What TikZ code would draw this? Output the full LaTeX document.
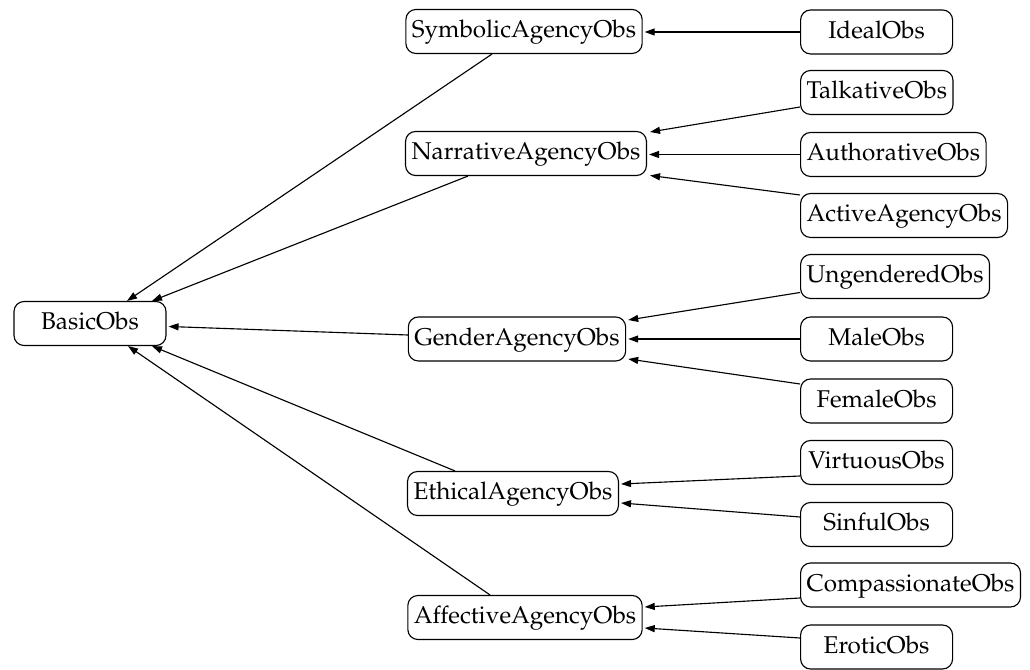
\documentclass[tikz,border=0pt]{standalone}
\usepackage[T1]{fontenc}
\usepackage{mathpazo}
\usetikzlibrary{arrows.meta}

\begin{document}
\begin{tikzpicture}[x=0.4pt, y=-0.4pt,
  obs/.style={draw, line width=0.45pt, rounded corners=4pt, font=\fontsize{9.7}{12}\selectfont,
    minimum width=60.8pt, minimum height=17.6pt, inner xsep=2.4pt,
    text height=0.72em, text depth=0.22em},
  isa/.style={draw, line width=0.45pt, -{Triangle[length=4pt, width=2.8pt]}}
]
\useasboundingbox (0,0) rectangle (1030,670);

% class nodes
\node[obs] (basic) at (90,323.5) {BasicObs};

\node[obs] (sym) at (524,31.5) {SymbolicAgencyObs};
\node[obs] (nar) at (526,153.5) {NarrativeAgencyObs};
\node[obs] (gen) at (517,339) {GenderAgencyObs};
\node[obs] (eth) at (513,493.5) {EthicalAgencyObs};
\node[obs] (aff) at (525,617.5) {AffectiveAgencyObs};

\node[obs, anchor=west] (ideal) at (800,32) {IdealObs};
\node[obs, anchor=west] (tal) at (800,92.5) {TalkativeObs};
\node[obs, anchor=west] (aut) at (800,154.5) {AuthorativeObs};
\node[obs, anchor=west] (act) at (800,215.5) {ActiveAgencyObs};
\node[obs, anchor=west] (ung) at (800,276.5) {UngenderedObs};
\node[obs, anchor=west] (male) at (800,339) {MaleObs};
\node[obs, anchor=west] (fem) at (800,401) {FemaleObs};
\node[obs, anchor=west] (vir) at (800,462.5) {VirtuousObs};
\node[obs, anchor=west] (sin) at (800,524.5) {SinfulObs};
\node[obs, anchor=west] (comp) at (800,585) {CompassionateObs};
\node[obs, anchor=west] (ero) at (800,647) {EroticObs};

% specialisations into the second level
\draw[isa] (ideal.west) -- ([shift={(2,0)}]ideal.west -| sym.east);
\draw[isa] ([shift={(0,14.5)}]tal.west) -- ([shift={(3,-21.5)}]nar.east);
\draw[isa] (aut.west) -- ([shift={(2,0)}]aut.west -| nar.east);
\draw[isa] ([shift={(0,-20.5)}]act.west) -- ([shift={(3,22)}]nar.east);
\draw[isa] ([shift={(0,16)}]ung.west) -- ([shift={(2,-19)}]gen.east);
\draw[isa] (male.west) -- ([shift={(2,0)}]male.west -| gen.east);
\draw[isa] ([shift={(0,-17)}]fem.west) -- ([shift={(2,20)}]gen.east);
\draw[isa] ([shift={(0,13.5)}]vir.west) -- ([shift={(2,-9.5)}]eth.east);
\draw[isa] ([shift={(0,-7.5)}]sin.west) -- ([shift={(2,9.5)}]eth.east);
\draw[isa] ([shift={(0,13)}]comp.west) -- ([shift={(2,-10.5)}]aff.east);
\draw[isa] ([shift={(0,-9)}]ero.west) -- ([shift={(2,10.5)}]aff.east);

% specialisations of BasicObs
\draw[isa] ([shift={(-32,0)}]sym.south) -- ([shift={(37,0)}]basic.north);
\draw[isa] ([shift={(-58,0)}]nar.south) -- ([shift={(62,0)}]basic.north);
\draw[isa] ([shift={(0,-4)}]gen.west) -- ([shift={(2,3)}]basic.east);
\draw[isa] ([shift={(-58,0)}]eth.north) -- ([shift={(62,0)}]basic.south);
\draw[isa] ([shift={(-35,0)}]aff.north) -- ([shift={(38,0)}]basic.south);
\end{tikzpicture}
\end{document}
